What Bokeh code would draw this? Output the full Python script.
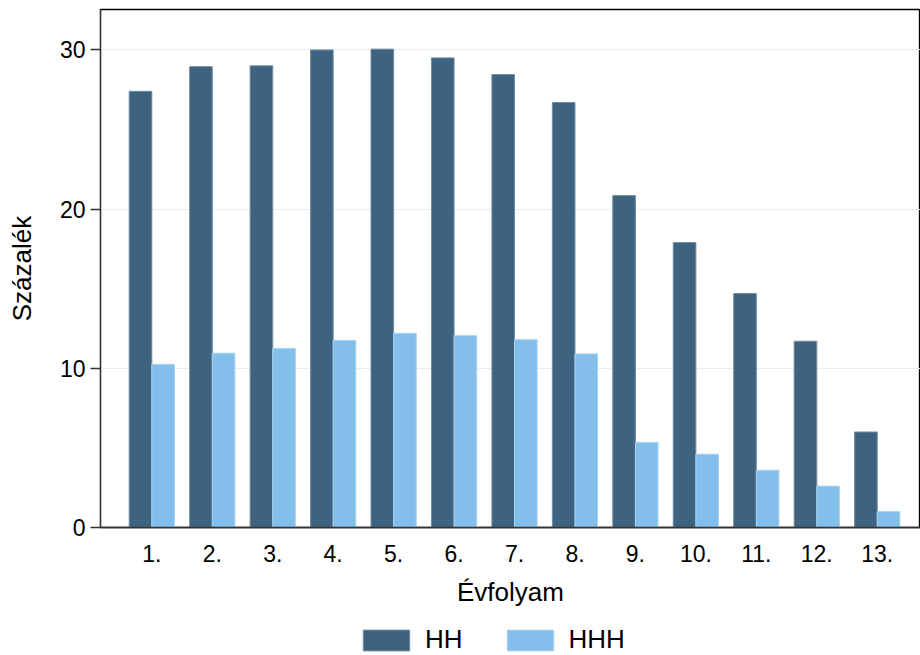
from bokeh.plotting import figure
from bokeh.layouts import column
from bokeh.models import ColumnDataSource, Range1d, FixedTicker, Legend, LegendItem
from bokeh.transform import dodge
from bokeh.embed import file_html
from bokeh.resources import INLINE

grades = ["1.", "2.", "3.", "4.", "5.", "6.", "7.", "8.", "9.", "10.", "11.", "12.", "13."]
hh = [27.4, 28.95, 29.0, 30.0, 30.05, 29.5, 28.45, 26.7, 20.85, 17.9, 14.7, 11.7, 6.0]
hhh = [10.25, 10.95, 11.25, 11.75, 12.2, 12.05, 11.8, 10.9, 5.35, 4.6, 3.6, 2.6, 1.0]
series = ["HH", "HHH"]
y_ticks = [0, 10, 20, 30]

pos = list(range(1, len(grades) + 1))
src = ColumnDataSource(dict(x=pos, hh=hh, hhh=hhh))

FONT = "Liberation Sans"
C_HH = "#3e6380"
C_HHH = "#83bfea"
L_HH = "#6f8ca2"
L_HHH = "#a6d3f2"

p = figure(frame_width=820, frame_height=518, output_backend="svg", toolbar_location=None,
           x_range=Range1d(0.151, 13.716), y_range=Range1d(0, 32.54),
           min_border_left=100, min_border_right=0, min_border_top=9, min_border_bottom=95)

bw = 0.374
p.vbar(x=dodge("x", -bw / 2, range=p.x_range), top="hh", width=bw, source=src,
       fill_color=C_HH, line_color=L_HH, line_width=1)
p.vbar(x=dodge("x", bw / 2, range=p.x_range), top="hhh", width=bw, source=src,
       fill_color=C_HHH, line_color=L_HHH, line_width=1)

p.outline_line_color = "black"
p.outline_line_width = 1.3
p.xgrid.grid_line_color = None
p.ygrid.grid_line_color = "#ececec"
p.ygrid.ticker = FixedTicker(ticks=y_ticks)

xa = p.xaxis[0]
xa.ticker = FixedTicker(ticks=pos)
xa.major_label_overrides = {i: g for i, g in zip(pos, grades)}
xa.major_tick_line_color = None
xa.minor_tick_line_color = None
xa.axis_line_color = "#333333"
xa.axis_line_width = 1.3
xa.major_label_standoff = 11
xa.major_label_text_font = FONT
xa.major_label_text_font_size = "23px"
xa.major_label_text_color = "black"
xa.axis_label = "Évfolyam"
xa.axis_label_text_font = FONT
xa.axis_label_text_font_size = "26px"
xa.axis_label_text_font_style = "normal"
xa.axis_label_text_color = "black"
xa.axis_label_standoff = 12

ya = p.yaxis[0]
ya.ticker = FixedTicker(ticks=y_ticks)
ya.minor_tick_line_color = None
ya.major_tick_in = 0
ya.major_tick_out = 10
ya.major_tick_line_color = "#333333"
ya.major_tick_line_width = 1.3
ya.axis_line_color = "#333333"
ya.axis_line_width = 1.3
ya.major_label_standoff = 5
ya.major_label_text_font = FONT
ya.major_label_text_font_size = "23px"
ya.major_label_text_color = "black"
ya.axis_label = "Százalék"
ya.axis_label_text_font = FONT
ya.axis_label_text_font_size = "26px"
ya.axis_label_text_font_style = "normal"
ya.axis_label_text_color = "black"
ya.axis_label_standoff = 20

# legend strip below the chart (its bars fall outside its ranges, only the keys show)
lg = figure(width=920, height=33, output_backend="svg", toolbar_location=None,
            x_axis_location=None, y_axis_location=None, min_border=0,
            x_range=Range1d(-200, -100), y_range=Range1d(-200, -100))
lg.outline_line_color = None
lg.xgrid.visible = False
lg.ygrid.visible = False
k1 = lg.vbar(x="x", top="hh", width=bw, source=src, fill_color=C_HH, line_color=L_HH)
k2 = lg.vbar(x="x", top="hhh", width=bw, source=src, fill_color=C_HHH, line_color=L_HHH)

legend = Legend(items=[LegendItem(label=series[0], renderers=[k1]),
                       LegendItem(label=series[1], renderers=[k2])],
                orientation="horizontal", location=(257, 0),
                glyph_width=58, glyph_height=26, label_text_font=FONT,
                label_text_font_size="26px", label_text_color="black",
                label_standoff=10, spacing=38, padding=0, margin=0,
                border_line_color=None, background_fill_alpha=0)
lg.add_layout(legend, "center")

layout = column(p, lg, spacing=0)
open("out.html", "w").write(file_html(layout, INLINE))
